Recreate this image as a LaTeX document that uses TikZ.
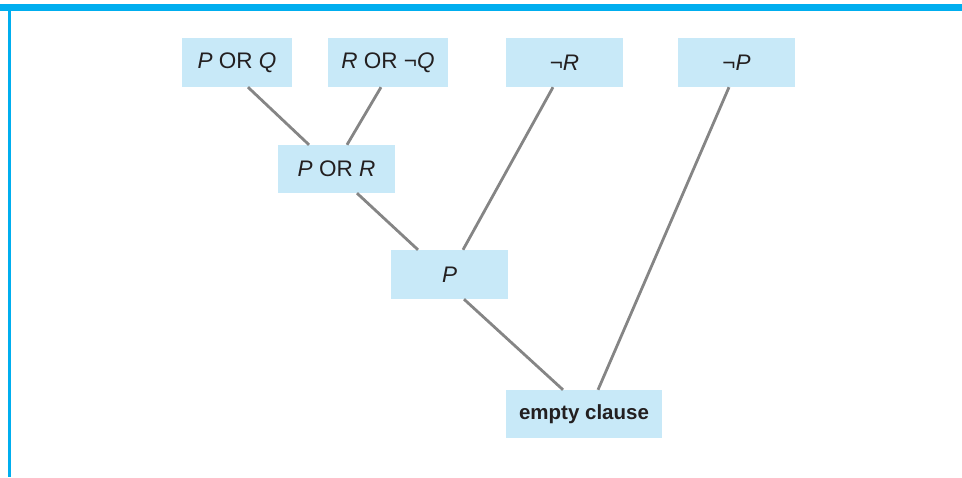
\documentclass[tikz,border=0pt]{standalone}
\usepackage{fontspec}
\setmainfont{Liberation Sans}
\definecolor{boxfill}{HTML}{C8E9F8}
\definecolor{barblue}{HTML}{00AEEF}
\definecolor{linegray}{HTML}{858585}
\definecolor{textdark}{HTML}{231F20}
\begin{document}
\begin{tikzpicture}[x=1pt,y=-1pt,
  clause/.style={draw=none,fill=boxfill,text=textdark,inner sep=0pt,font=\fontsize{22.5}{24}\selectfont},
  link/.style={draw=linegray,line width=2.8pt}]
\useasboundingbox (0,0) rectangle (962,477);
\fill[barblue] (0,3.5) rectangle (962,11);
\fill[barblue] (8,3.5) rectangle (10.5,477);
% clauses
\node[clause,minimum width=110pt,minimum height=49pt] (pq) at (237,62.5) {\textit{P} OR \textit{Q}};
\node[clause,minimum width=120pt,minimum height=49pt] (rq) at (388,62.5) {\textit{R} OR ¬\textit{Q}};
\node[clause,minimum width=117pt,minimum height=49pt] (nr) at (564.5,62.5) {¬\textit{R}};
\node[clause,minimum width=117pt,minimum height=49pt] (np) at (736.5,62.5) {¬\textit{P}};
\node[clause,minimum width=117pt,minimum height=48pt] (por) at (336.5,169) {\textit{P} OR \textit{R}};
\node[clause,minimum width=117pt,minimum height=49pt] (p) at (449.5,274.5) {\textit{P}};
\node[clause,minimum width=156pt,minimum height=48pt,font=\fontsize{20.5}{22}\selectfont\bfseries] (ec) at (584,414) {empty clause};
% links
\draw[link] ([xshift=11pt]pq.south) -- ([xshift=-27.5pt]por.north);
\draw[link] ([xshift=-7pt]rq.south) -- ([xshift=10.5pt]por.north);
\draw[link] ([xshift=20.5pt]por.south) -- ([xshift=-31.5pt]p.north);
\draw[link] ([xshift=-11.5pt]nr.south) -- ([xshift=13.5pt]p.north);
\draw[link] ([xshift=14.5pt]p.south) -- ([xshift=-21pt]ec.north);
\draw[link] ([xshift=-7.5pt]np.south) -- ([xshift=14pt]ec.north);
\end{tikzpicture}
\end{document}
